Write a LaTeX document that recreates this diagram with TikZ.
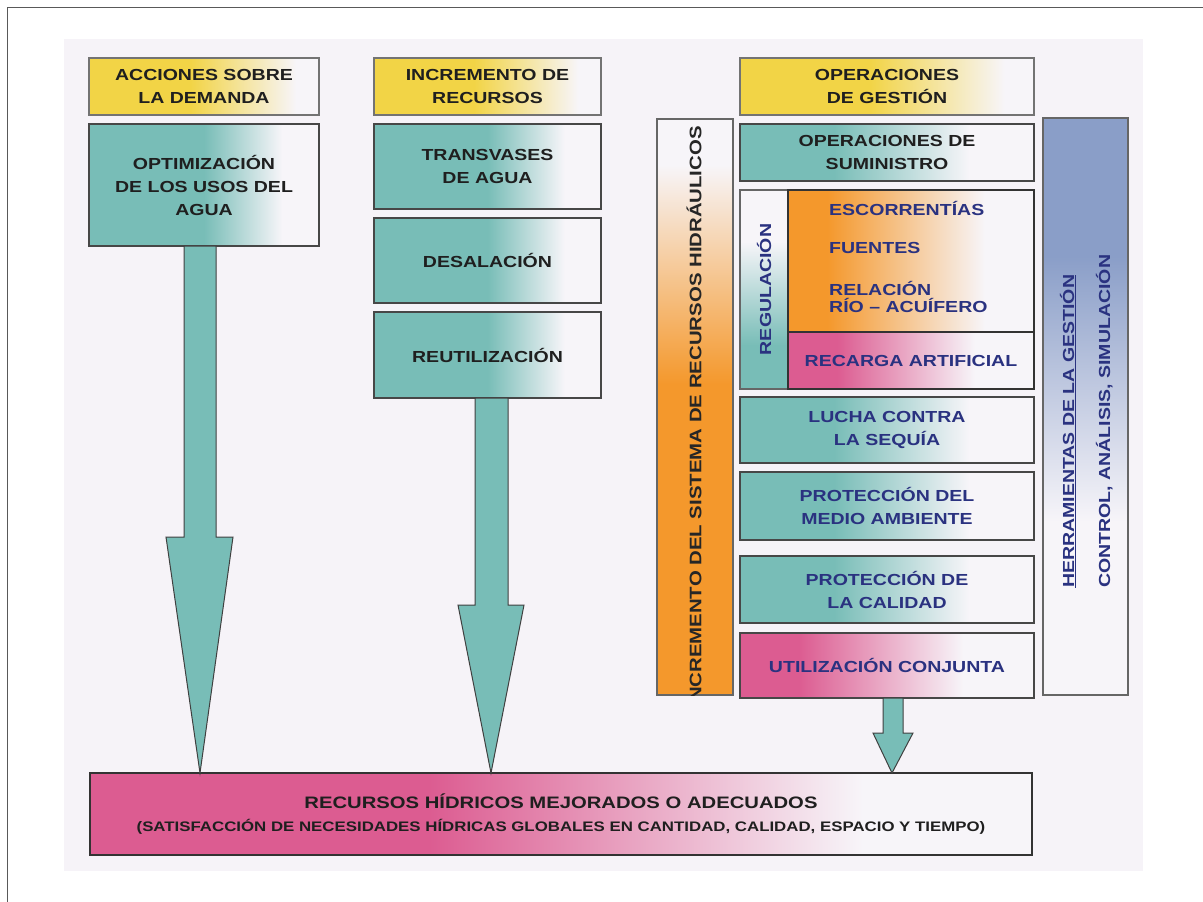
\documentclass[tikz,border=0pt]{standalone}
\usepackage{fontspec}
\setmainfont{Liberation Sans}[FakeStretch=1.22]
\usepackage{tikz}
\usetikzlibrary{calc}
\usetikzlibrary{positioning}

\definecolor{verde}{RGB}{120,189,183}
\definecolor{claro}{RGB}{247,245,249}
\definecolor{amarillo}{RGB}{242,212,70}
\definecolor{rosa}{RGB}{220,92,145}
\definecolor{naranja}{RGB}{244,152,44}
\definecolor{azul}{RGB}{138,158,200}
\definecolor{papel}{RGB}{246,243,248}
\definecolor{azulosc}{RGB}{42,50,128}

\pgfdeclarehorizontalshading{verdeA}{100bp}{color(0bp)=(verde); color(50bp)=(verde); color(67bp)=(claro); color(100bp)=(claro)}
\pgfdeclarehorizontalshading{verdeB}{100bp}{color(0bp)=(verde); color(41bp)=(verde); color(64bp)=(claro); color(100bp)=(claro)}
\pgfdeclarehorizontalshading{amarilloA}{100bp}{color(0bp)=(amarillo); color(47bp)=(amarillo); color(70bp)=(claro); color(100bp)=(claro)}
\pgfdeclarehorizontalshading{rosaA}{100bp}{color(0bp)=(rosa); color(35bp)=(rosa); color(63bp)=(claro); color(100bp)=(claro)}
\pgfdeclarehorizontalshading{rosaB}{100bp}{color(0bp)=(rosa); color(43bp)=(rosa); color(66bp)=(claro); color(100bp)=(claro)}
\pgfdeclarehorizontalshading{naranjaA}{100bp}{color(0bp)=(naranja); color(33bp)=(naranja); color(65bp)=(claro); color(100bp)=(claro)}
\pgfdeclareverticalshading{naranjaV}{100bp}{color(0bp)=(naranja); color(52bp)=(naranja); color(71bp)=(claro); color(100bp)=(claro)}
\pgfdeclareverticalshading{azulV}{100bp}{color(0bp)=(claro); color(40bp)=(claro); color(63bp)=(azul); color(100bp)=(azul)}
\pgfdeclareverticalshading{verdeV}{100bp}{color(0bp)=(verde); color(36bp)=(verde); color(62bp)=(claro); color(100bp)=(claro)}

\tikzset{
  caja/.style={draw=black!72, line width=1.4pt, shade, shading=verdeA, inner sep=0pt, outer sep=0pt,
    anchor=north west, align=center, text=black!88, font=\bfseries\fontsize{16}{23}\selectfont},
  cabecera/.style={caja, draw=black!55, line width=1.8pt, shading=amarilloA},
  gestion/.style={caja, shading=verdeB, text=azulosc, minimum width=294},
  barra/.style={draw=black!60, line width=1.4pt, shade, inner sep=0pt, outer sep=0pt, anchor=north west},
  rotulo/.style={inner sep=0pt, font=\bfseries\fontsize{16}{23}\selectfont},
  flecha/.style={fill=verde, draw=black!75, line width=1pt, line join=miter},
}

\begin{document}
\begin{tikzpicture}[x=1pt, y=-1pt]
\useasboundingbox (0,0) rectangle (1203,902);
% marco y fondo
\draw[black!65, line width=1.2pt] (7.5,902) -- (7.5,7.5) -- (1203,7.5);
\fill[papel] (64,39) rectangle (1143,871);

% demanda
\node[cabecera, minimum width=230, minimum height=57] (acc) at (89,58) {ACCIONES SOBRE\\LA DEMANDA};
\node[caja, minimum width=230, minimum height=122] (opt) at (89,124) {OPTIMIZACIÓN\\DE LOS USOS DEL\\AGUA};

% recursos
\node[cabecera, minimum width=227, minimum height=57] (inc) at (374,58) {INCREMENTO DE\\RECURSOS};
\node[caja, minimum width=227, minimum height=85] (tra) at (374,124) {TRANSVASES\\DE AGUA};
\node[caja, minimum width=227, minimum height=85, below=9pt of tra] (des) {DESALACIÓN};
\node[caja, minimum width=227, minimum height=86, below=9pt of des] (reu) {REUTILIZACIÓN};

% gestion
\node[cabecera, minimum width=294, minimum height=57] (ges) at (740,58) {OPERACIONES\\DE GESTIÓN};
\node[gestion, text=black!88, minimum height=57] (sum) at (740,124) {OPERACIONES DE\\SUMINISTRO};
\node[barra, shading=verdeV, minimum width=48, minimum height=199] (reg) at (740,190) {};
\node[rotulo, rotate=90, text=azulosc] (regt) at (reg.center) {REGULACIÓN};
\node[barra, draw=black!80, shading=naranjaA, minimum width=246, minimum height=142] (esc) at (788,190) {};
\node[barra, draw=black!80, shading=rosaA, minimum width=246, minimum height=57] (rec) at (788,332) {};
\node[rotulo, text=azulosc] (rect) at (rec.center) {RECARGA ARTIFICIAL};
\node[rotulo, text=azulosc, anchor=west] (esct) at (829,208) {ESCORRENTÍAS};
\node[rotulo, text=azulosc, anchor=west] (fue) at (829,248) {FUENTES};
\node[rotulo, text=azulosc, anchor=west, align=left, font=\bfseries\fontsize{16}{17}\selectfont] (rel) at (829,297) {RELACIÓN\\RÍO -- ACUÍFERO};
\node[gestion, minimum height=66] (seq) at (740,397) {LUCHA CONTRA\\LA SEQUÍA};
\node[gestion, minimum height=68] (amb) at (740,472) {PROTECCIÓN DEL\\MEDIO AMBIENTE};
\node[gestion, minimum height=67] (cal) at (740,556) {PROTECCIÓN DE\\LA CALIDAD};
\node[gestion, shading=rosaA, minimum height=65] (con) at (740,633) {UTILIZACIÓN CONJUNTA};

% barras laterales
\node[barra, shading=naranjaV, minimum width=76, minimum height=576] (sis) at (657,119) {};
\begin{scope}
\clip (sis.north west) rectangle (sis.south east);
\node[rotulo, rotate=90, anchor=east, text=black!85, font=\bfseries\fontsize{16.7}{23}\selectfont] (sist) at (694,126) {INCREMENTO DEL SISTEMA DE RECURSOS HIDRÁULICOS};
\end{scope}
\node[barra, shading=azulV, minimum width=85, minimum height=577] (her) at (1043,118) {};
\node[rotulo, rotate=90, anchor=base west, text=azulosc] (hert) at (1074,588) {\underline{HERRAMIENTAS DE LA GESTIÓN}};
\node[rotulo, rotate=90, anchor=base west, text=azulosc] (ctl) at (1110,588) {CONTROL, ANÁLISIS, SIMULACIÓN};

% resultado
\node[caja, shading=rosaB, draw=black!80, minimum width=942, minimum height=82] (res) at (90,773)
  {\fontsize{16.6}{24}\selectfont RECURSOS HÍDRICOS MEJORADOS O ADECUADOS\\
   \fontsize{13.8}{24}\selectfont (SATISFACCIÓN DE NECESIDADES HÍDRICAS GLOBALES EN CANTIDAD, CALIDAD, ESPACIO Y TIEMPO)};

% flechas
\filldraw[flecha] let \p1=(opt.south), \p2=(res.north) in
  (184pt,\y1) -- (216pt,\y1) -- (216pt,-537pt) -- (233pt,-537pt) -- (200pt,\y2) -- (166pt,-537pt) -- (184pt,-537pt) -- cycle;
\filldraw[flecha] let \p1=(reu.south), \p2=(res.north) in
  (475pt,\y1) -- (508pt,\y1) -- (508pt,-605pt) -- (524pt,-605pt) -- (491pt,\y2) -- (458pt,-605pt) -- (475pt,-605pt) -- cycle;
\filldraw[flecha] let \p1=(con.south), \p2=(res.north) in
  (883pt,\y1) -- (903pt,\y1) -- (903pt,-733pt) -- (913pt,-733pt) -- (892pt,\y2) -- (873pt,-733pt) -- (883pt,-733pt) -- cycle;
\end{tikzpicture}
\end{document}
